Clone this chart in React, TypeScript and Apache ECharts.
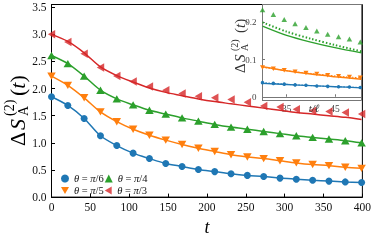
import React, { useEffect, useRef } from 'react';
import * as echarts from 'echarts';

const tMain = [0, 21, 42, 63, 84, 105, 126, 147, 168, 189, 210, 231, 252, 273, 294, 315, 336, 357, 378, 399];
const blueVals = [1.85, 1.69, 1.45, 1.13, 0.95, 0.81, 0.71, 0.62, 0.565, 0.51, 0.47, 0.43, 0.40, 0.38, 0.35, 0.33, 0.31, 0.295, 0.28, 0.27];
const orangeVals = [2.23, 2.06, 1.83, 1.57, 1.39, 1.25, 1.14, 1.05, 0.97, 0.90, 0.84, 0.78, 0.74, 0.71, 0.67, 0.63, 0.60, 0.58, 0.55, 0.53];
const greenVals = [2.61, 2.46, 2.23, 1.97, 1.81, 1.70, 1.60, 1.53, 1.46, 1.40, 1.34, 1.29, 1.25, 1.21, 1.17, 1.13, 1.10, 1.07, 1.04, 1.00];
const redMarkVals = [3.0, 2.86, 2.64, 2.39, 2.23, 2.13, 2.04, 1.97, 1.91, 1.86, 1.83, 1.80, 1.75, 1.68, 1.66, 1.62, 1.59, 1.58, 1.56, 1.53];
const redLineVals = [3.0, 2.87, 2.66, 2.40, 2.24, 2.12, 2.01, 1.93, 1.87, 1.81, 1.76, 1.72, 1.68, 1.64, 1.60, 1.56, 1.53, 1.50, 1.47, 1.43];
const yTicks = [0, 0.5, 1.0, 1.5, 2.0, 2.5, 3.0, 3.5];
const xTicks = [0, 50, 100, 150, 200, 250, 300, 350, 400];

const insetT = [30, 32.25, 34.5, 36.75, 39, 41.25, 43.5, 45.75, 48, 50.25];
const insetBlueMark = [0.038, 0.036, 0.034, 0.032, 0.031, 0.029, 0.028, 0.027, 0.026, 0.025];
const insetOrangeMark = [0.079, 0.075, 0.071, 0.067, 0.064, 0.061, 0.058, 0.055, 0.053, 0.051];
const insetGreenTri = [0.234, 0.221, 0.208, 0.196, 0.186, 0.177, 0.168, 0.161, 0.155, 0.147];
const insetCurveT = [30, 35, 40, 45, 50.5];
const insetBlueCurve = [0.036, 0.033, 0.030, 0.027, 0.024];
const insetOrangeCurve = [0.081, 0.070, 0.061, 0.054, 0.047];
const insetGreenCurve = [0.190, 0.165, 0.147, 0.132, 0.118];
const insetGreenDotted = [0.200, 0.175, 0.156, 0.139, 0.122];
const insetXTicks = [35, 45];
const insetYTicks = [0, 0.1, 0.2];

const legendNames = ['θ = π/6', 'θ = π/4', 'θ = π/5', 'θ = π/3'];

const BLUE = '#1f77b4';
const ORANGE = '#ff7f0e';
const GREEN = '#2ca02c';
const RED = '#d62728';
const SERIF = '"Liberation Serif", "DejaVu Serif", serif';
const DOWN_TRI = 'path://M0,0L10,0L5,8.7Z';
const LEFT_TRI = 'path://M8.7,0L8.7,10L0,5Z';

const zip = (xs: number[], ys: number[]) => xs.map((x, i) => [x, ys[i]]);

function mathLabel(x: number, y: number, fs: number, sfs: number, pos: number[], sup: number, sub: number, color: string) {
  const txt = (t: string, lx: number, base: number, size: number, italic: boolean) => ({
    type: 'text',
    x: lx,
    y: base - 0.34 * size,
    style: {
      text: t,
      font: `${italic ? 'italic ' : ''}${size}px ${SERIF}`,
      fill: color,
      textAlign: 'left',
      textVerticalAlign: 'middle',
      rich: {
        it: { fontFamily: SERIF, fontSize: size, fontStyle: 'italic', fill: color, color },
      },
    },
  });
  return {
    type: 'group',
    x,
    y,
    rotation: Math.PI / 2,
    children: [
      txt('Δ', pos[0], 0, fs, false),
      txt('S', pos[1], 0, fs, true),
      txt('(2)', pos[2], -sup, sfs, false),
      txt('A', pos[2], sub, sfs, false),
      txt('({it|t})', pos[3], 0, fs, false),
    ],
  };
}

export default function App() {
  const ref = useRef<HTMLDivElement>(null);
  useEffect(() => {
    if (!ref.current) return;
    const chart = echarts.init(ref.current, null, { renderer: 'svg' });
    const lineSeries = (name: string, vals: number[], color: string, symbol: string, size: any) => ({
      name,
      type: 'line',
      xAxisIndex: 0,
      yAxisIndex: 0,
      data: zip(tMain, vals),
      smooth: 0.3,
      symbol,
      symbolSize: size,
      showSymbol: true,
      itemStyle: { color },
      lineStyle: { color, width: 1.5 },
      z: 3,
    });
    const insetLine = (name: string, xs: number[], vals: number[], color: string, width: number, type: any, symbol: string, size: any) => ({
      name,
      type: 'line',
      xAxisIndex: 1,
      yAxisIndex: 1,
      data: zip(xs, vals),
      smooth: 0.3,
      symbol,
      symbolSize: size,
      showSymbol: symbol !== 'none',
      itemStyle: { color },
      lineStyle: { color, width, type },
      z: 5,
    });
    const option: any = {
      animation: false,
      grid: [
        { left: 51.5, top: 4.5, width: 311, height: 201.5, show: true, borderColor: '#000', borderWidth: 1, backgroundColor: 'transparent' },
        { left: 262.5, top: 4.5, width: 99, height: 96, show: true, borderColor: '#777', borderWidth: 1, backgroundColor: '#fff' },
      ],
      xAxis: [
        {
          type: 'value', gridIndex: 0, min: 0, max: 400, interval: 50,
          axisLine: { show: true, lineStyle: { color: '#000', width: 1 } },
          axisTick: { show: true, inside: true, length: 3.5, lineStyle: { color: '#000' }, customValues: xTicks },
          axisLabel: { color: '#111', fontFamily: SERIF, fontSize: 11.5, margin: 4, customValues: xTicks },
          splitLine: { show: false },
          name: 't', nameLocation: 'middle', nameGap: 14,
          nameTextStyle: { fontFamily: SERIF, fontStyle: 'italic', fontSize: 18, color: '#000' },
        },
        {
          type: 'value', gridIndex: 1, min: 30, max: 50.5,
          axisLine: { show: true, lineStyle: { color: '#777', width: 1 } },
          axisTick: { show: true, inside: true, length: 2.5, lineStyle: { color: '#777' }, customValues: insetXTicks },
          axisLabel: { color: '#444', fontFamily: SERIF, fontSize: 9.5, margin: 3, customValues: insetXTicks },
          splitLine: { show: false },
        },
      ],
      yAxis: [
        {
          type: 'value', gridIndex: 0, min: 0, max: 3.55,
          axisLine: { show: true, lineStyle: { color: '#000', width: 1 } },
          axisTick: { show: true, inside: true, length: 3.5, lineStyle: { color: '#000' }, customValues: yTicks },
          axisLabel: { color: '#111', fontFamily: SERIF, fontSize: 11.5, margin: 5, customValues: yTicks, formatter: (v: number) => v.toFixed(1) },
          splitLine: { show: false },
        },
        {
          type: 'value', gridIndex: 1, min: -0.01, max: 0.248,
          axisLine: { show: true, lineStyle: { color: '#777', width: 1 } },
          axisTick: { show: true, inside: true, length: 2.5, lineStyle: { color: '#777' }, customValues: insetYTicks },
          axisLabel: { color: '#444', fontFamily: SERIF, fontSize: 9, margin: 6, customValues: insetYTicks, formatter: (v: number) => (v === 0 ? '0' : v.toFixed(1)) },
          splitLine: { show: false },
        },
      ],
      legend: {
        left: 61, top: 173, width: 92, padding: 0,
        itemWidth: 8, itemHeight: 8, itemGap: 1,
        orient: 'horizontal',
        data: [
          { name: legendNames[0], icon: 'circle' },
          { name: legendNames[1], icon: 'triangle' },
          { name: legendNames[2], icon: DOWN_TRI },
          { name: legendNames[3], icon: LEFT_TRI },
        ],
        formatter: (n: string) => n.replace('θ', '{i|θ}').replace('π', '{i|π}'),
        textStyle: {
          fontFamily: SERIF, fontSize: 10.5, color: '#111',
          rich: { i: { fontFamily: SERIF, fontSize: 10.5, fontStyle: 'italic', color: '#111' } },
        },
      },
      series: [
        lineSeries(legendNames[0], blueVals, BLUE, 'circle', 7),
        lineSeries(legendNames[2], orangeVals, ORANGE, DOWN_TRI, [8.5, 7.4]),
        lineSeries(legendNames[1], greenVals, GREEN, 'triangle', [8.5, 7.4]),
        {
          name: 'red theory', type: 'line', xAxisIndex: 0, yAxisIndex: 0,
          data: zip(tMain, redLineVals), smooth: 0.3, symbol: 'none', showSymbol: false,
          lineStyle: { color: RED, width: 1.5 }, itemStyle: { color: RED }, z: 3,
        },
        {
          name: legendNames[3], type: 'scatter', xAxisIndex: 0, yAxisIndex: 0,
          data: zip(tMain, redMarkVals), symbol: LEFT_TRI, symbolSize: [7.4, 8.5],
          itemStyle: { color: RED }, z: 4,
        },
        insetLine('i blue curve', insetCurveT, insetBlueCurve, BLUE, 1.3, 'solid', 'none', 0),
        insetLine('i blue marks', insetT, insetBlueMark, BLUE, 1, [1.5, 1.5], 'circle', 3.5),
        insetLine('i orange curve', insetCurveT, insetOrangeCurve, ORANGE, 1.5, 'solid', 'none', 0),
        insetLine('i orange marks', insetT, insetOrangeMark, ORANGE, 1, [1.5, 1.5], DOWN_TRI, [5, 4.5]),
        insetLine('i green curve', insetCurveT, insetGreenCurve, GREEN, 1.2, 'solid', 'none', 0),
        insetLine('i green dotted', insetCurveT, insetGreenDotted, GREEN, 2, [1.5, 2], 'none', 0),
        {
          name: 'i green tri', type: 'scatter', xAxisIndex: 1, yAxisIndex: 1,
          data: zip(insetT, insetGreenTri), symbol: 'triangle', symbolSize: [5.5, 5],
          itemStyle: { color: GREEN }, z: 5,
        },
      ],
      graphic: [
        mathLabel(25, 146, 22, 14, [0, 16, 30, 50], 11, 3.5, '#000'),
        mathLabel(245, 73, 15, 10, [0, 11, 22, 40], 7.5, 2.5, '#333'),
        {
          type: 'text', x: 314, y: 107.5, z: 10,
          style: { text: 't/ℓ', font: `italic 11px ${SERIF}`, fill: '#333', textAlign: 'center', textVerticalAlign: 'middle' },
        },
      ],
    };
    chart.setOption(option);
    return () => chart.dispose();
  }, []);
  return <div ref={ref} style={{ position: 'fixed', left: 0, top: 0, width: 374, height: 241 }} />;
}
